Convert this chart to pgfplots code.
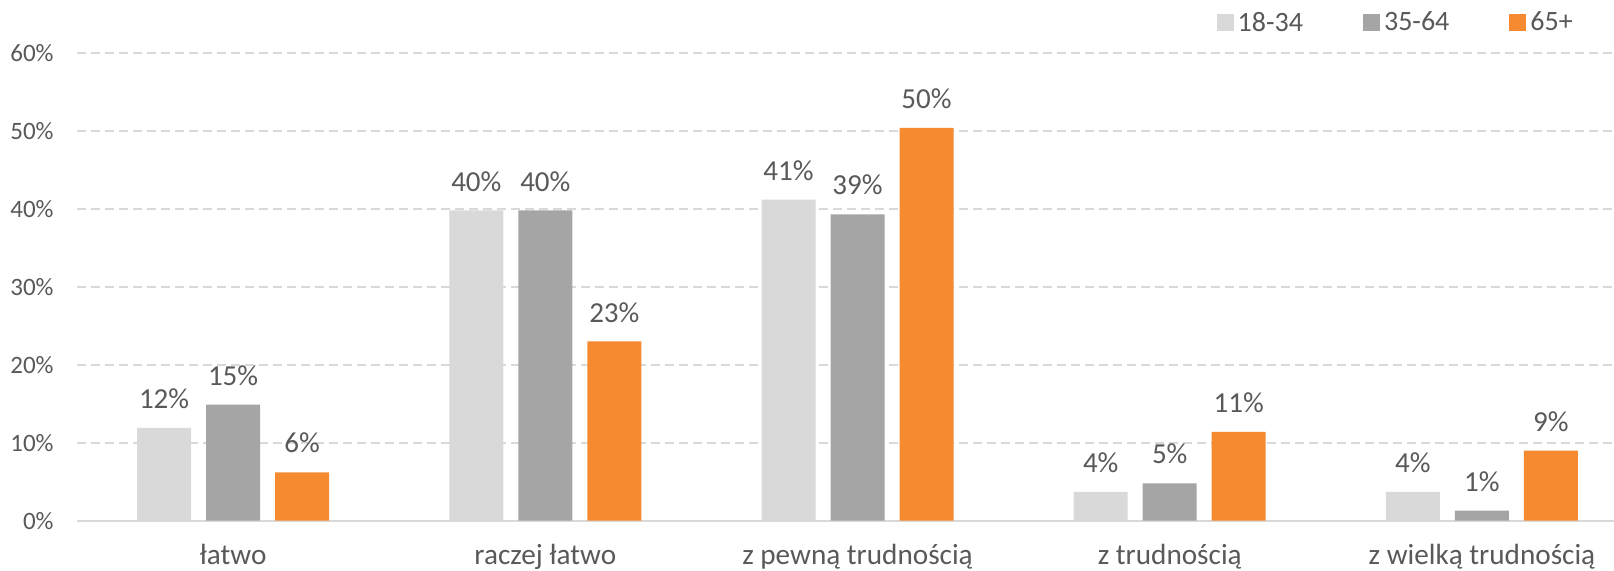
\documentclass[border=0pt]{standalone}
\usepackage{pgfplots}
\pgfplotsset{compat=1.18}
\usepackage{fontspec}
\setmainfont{Carlito}
\definecolor{txt}{HTML}{595959}
\definecolor{cA}{HTML}{D9D9D9}
\definecolor{cB}{HTML}{A5A5A5}
\definecolor{cC}{HTML}{F58A30}
\definecolor{grid}{HTML}{D9D9D9}
\begin{document}
\begin{tikzpicture}
\begin{axis}[name=ax, scale only axis, width=768.5pt, height=233.85pt,
  ymin=0, ymax=60, xmin=-0.5, xmax=4.423,
  /pgf/number format/assume math mode=true,
  ybar=7.5pt, bar width=27pt,
  axis line style={draw=none},
  major tick length=0pt,
  ytick={10,20,...,60},
  yticklabel={\pgfmathprintnumber{\tick}\%},
  extra y ticks={0}, extra y tick labels={0\%},
  extra y tick style={grid style={solid, draw=grid, line width=1pt}},
  ymajorgrids, grid style={dashed, dash pattern=on 4.5pt off 2.5pt, draw=grid, line width=1pt},
  yticklabel style={anchor=east, inner sep=0pt, xshift=-11.5pt, font=\fontsize{12.5}{14}\selectfont, text=txt},
  xtick={0,1,2,3,4},
  xticklabels={łatwo, raczej łatwo, z pewną trudnością, z trudnością, z wielką trudnością},
  xticklabel style={anchor=base, yshift=-22pt, font=\fontsize{14.6}{17}\selectfont, text=txt},
  point meta=explicit symbolic,
  nodes near coords={\pgfplotspointmeta\%},
  every node near coord/.append style={anchor=base, yshift=9.7pt, font=\fontsize{14.5}{17}\selectfont, text=txt},
  legend columns=3,
  legend style={draw=none, at={(rel axis cs:0.976,1)}, anchor=east, yshift=15pt, inner sep=0pt,
    font=\fontsize{14}{16}\selectfont, text=txt,
    /tikz/every even column/.append style={column sep=28pt}},
  legend image code/.code={\fill[#1] (0pt,-4.25pt) rectangle (8.5pt,4.25pt);},
]
\addplot[fill=cA, draw=none] coordinates {(0,11.9)[12] (1,39.8)[40] (2,41.2)[41] (3,3.7)[4] (4,3.7)[4]};
\addplot[fill=cB, draw=none] coordinates {(0,14.9)[15] (1,39.8)[40] (2,39.3)[39] (3,4.8)[5] (4,1.3)[1]};
\addplot[fill=cC, draw=none] coordinates {(0,6.2)[6] (1,23.0)[23] (2,50.4)[50] (3,11.4)[11] (4,9.0)[9]};
\legend{18-34, 35-64, 65+}
\end{axis}
\pgfresetboundingbox
\path[use as bounding box] ([xshift=-38.5pt,yshift=-25pt]ax.south west) rectangle ([yshift=26.5pt]ax.north east);
\end{tikzpicture}
\end{document}
